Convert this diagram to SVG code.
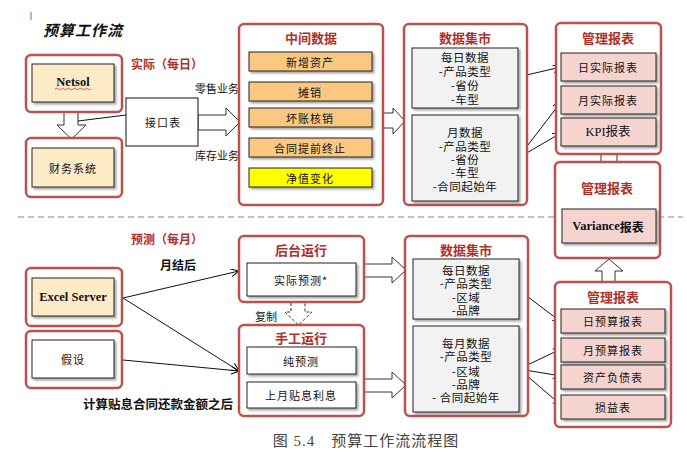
<svg xmlns="http://www.w3.org/2000/svg" width="687" height="465" viewBox="0 0 687 465">
<style>
text{font-family:"Noto Sans CJK SC","Liberation Sans",sans-serif;dominant-baseline:central;text-anchor:middle;fill:#111}
.outer{fill:#fff;stroke:#c0504d;stroke-width:2.5}
.inner{stroke:#222;stroke-width:1;filter:url(#sh)}
.peach{fill:#fdebc8}
.orange{fill:#fac880}
.yellow{fill:#ffff00}
.pink{fill:#f5d4d0}
.gray{fill:#f2f2f2}
.white{fill:#fff}
.ttl{font-size:13px;font-weight:bold;fill:#b0302a}
.lbl{font-size:11px;letter-spacing:1px}
.dm{font-size:11.5px;letter-spacing:0.5px}
.en{font-family:"Liberation Serif","DejaVu Serif",serif;font-weight:bold;font-size:12.5px}
.hollow{fill:#fff;stroke:#333;stroke-width:1}
.conn{stroke:#111;stroke-width:1;fill:none}
.blk{font-size:12px;font-weight:bold}
</style>
<defs>
<filter id="sh" x="-10%" y="-10%" width="130%" height="140%">
<feDropShadow dx="2" dy="2" stdDeviation="1" flood-color="#000" flood-opacity="0.35"/>
</filter>
<marker id="ah" markerWidth="9" markerHeight="9" refX="8" refY="4" orient="auto" markerUnits="userSpaceOnUse">
<path d="M0,0 L8,4 L0,8" fill="none" stroke="#111" stroke-width="1"/>
</marker>
</defs>

<line x1="31" y1="12" x2="31" y2="20" stroke="#c0504d" stroke-width="1"/>
<text x="83" y="29" style="font-size:15px;font-style:italic;font-weight:bold;letter-spacing:1px">预算工作流</text>
<text x="167" y="63" class="ttl" style="font-size:12px">实际（每日）</text>
<text x="167" y="238" class="ttl" style="font-size:12px">预测（每月）</text>
<line x1="18" y1="217" x2="683" y2="217" stroke="#888" stroke-width="1" stroke-dasharray="6 4"/>

<g id="connectors">
<path class="hollow" d="M64,112 H78 V125 H86 L71.5,139 L57,125 H64 Z"/>
<path class="hollow" d="M198,115 H226 V108 L240,122 L226,136 V130 H198 Z"/>
<path class="hollow" d="M383,113 H393 V108 L405,121 L393,134 V128 H383 Z"/>
<path class="hollow" d="M601,146 H617 V163 H624 L609,176 L594,163 H601 Z"/>
<path class="hollow" d="M602,282 V271 H595 L609,259 L623,271 H615 V282 Z"/>
<path class="hollow" d="M291,303 V312 H285 L298.5,325 L312,312 H305 V303" stroke-dasharray="3 2"/>
<path class="hollow" d="M364,264 H392 V257 L406,270 L392,283 V277 H364 Z"/>
<path class="hollow" d="M364,379 H392 V372 L406,385 L392,398 V392 H364 Z"/>
<line class="conn" x1="126" y1="115" x2="78" y2="121"/>
<line class="conn" x1="518" y1="77" x2="561" y2="67" marker-end="url(#ah)"/>
<line class="conn" x1="518" y1="158" x2="561" y2="102" marker-end="url(#ah)"/>
<line class="conn" x1="518" y1="158" x2="561" y2="133" marker-end="url(#ah)"/>
<line class="conn" x1="123" y1="298" x2="239" y2="271" marker-end="url(#ah)"/>
<line class="conn" x1="123" y1="298" x2="239" y2="371" marker-end="url(#ah)"/>
<line class="conn" x1="123" y1="360" x2="239" y2="371" marker-end="url(#ah)"/>
<line class="conn" x1="519" y1="290" x2="561" y2="322" marker-end="url(#ah)"/>
<line class="conn" x1="519" y1="369" x2="561" y2="349" marker-end="url(#ah)"/>
<line class="conn" x1="519" y1="369" x2="561" y2="376" marker-end="url(#ah)"/>
<line class="conn" x1="519" y1="369" x2="561" y2="405" marker-end="url(#ah)"/>
<text x="217" y="88" class="lbl" style="letter-spacing:0">零售业务</text>
<text x="217" y="155" class="lbl" style="letter-spacing:0">库存业务</text>
<text x="178" y="264" class="blk">月结后</text>
<text x="266" y="316" class="lbl" style="letter-spacing:0">复制</text>
<text x="158" y="403" class="blk" style="font-size:12.5px">计算贴息合同还款金额之后</text>
</g>

<g id="netsol">
<rect class="outer" x="26" y="55" width="96" height="57" rx="5"/>
<rect class="inner peach" x="32" y="64" width="82" height="38"/>
<text x="73" y="82" class="en">Netsol</text>
<path d="M55,89 q1.5,-1.5 3,0 t3,0 t3,0 t3,0 t3,0 t3,0 t3,0 t3,0 t3,0 t3,0 t3,0 t3,0" fill="none" stroke="#e03030" stroke-width="0.8"/>
</g>
<g id="caiwu">
<rect class="outer" x="26" y="138" width="96" height="59" rx="5"/>
<rect class="inner peach" x="32" y="148" width="82" height="39"/>
<text x="73" y="168" class="lbl">财务系统</text>
</g>
<g id="jiekou">
<rect x="126" y="98" width="72" height="48" fill="#fff" stroke="#111" stroke-width="1"/>
<text x="163" y="122" class="lbl">接口表</text>
</g>

<g id="zhongjian">
<rect class="outer" x="239" y="24" width="144" height="181" rx="5"/>
<text x="311" y="37" class="ttl">中间数据</text>
<rect class="inner orange" x="249" y="52" width="123" height="19"/>
<text x="310" y="62" class="lbl">新增资产</text>
<rect class="inner orange" x="249" y="82" width="123" height="19"/>
<text x="310" y="92" class="lbl">摊销</text>
<rect class="inner orange" x="249" y="108" width="123" height="19"/>
<text x="310" y="118" class="lbl">坏账核销</text>
<rect class="inner orange" x="249" y="138" width="123" height="19"/>
<text x="310" y="148" class="lbl">合同提前终止</text>
<rect class="inner yellow" x="249" y="168" width="123" height="19"/>
<text x="310" y="178" class="lbl">净值变化</text>
</g>

<g id="shuju-top">
<rect class="outer" x="404" y="24" width="123" height="181" rx="5"/>
<text x="465" y="37" class="ttl">数据集市</text>
<rect class="inner gray" x="412" y="48" width="106" height="60"/>
<text x="465" y="57" class="dm">每日数据</text>
<text x="465" y="71" class="dm">-产品类型</text>
<text x="465" y="85" class="dm">-省份</text>
<text x="465" y="99" class="dm">-车型</text>
<rect class="inner gray" x="412" y="115" width="106" height="86"/>
<text x="465" y="132" class="dm">月数据</text>
<text x="465" y="146" class="dm">-产品类型</text>
<text x="465" y="159" class="dm">-省份</text>
<text x="465" y="172" class="dm">-车型</text>
<text x="465" y="186" class="dm">-合同起始年</text>
</g>

<g id="guanli-top">
<rect class="outer" x="556" y="23" width="105" height="131" rx="5"/>
<text x="608" y="37" class="ttl">管理报表</text>
<rect class="inner pink" x="561" y="53" width="95" height="28"/>
<text x="608" y="67" class="lbl">日实际报表</text>
<rect class="inner pink" x="561" y="86" width="95" height="28"/>
<text x="608" y="100" class="lbl">月实际报表</text>
<rect class="inner pink" x="561" y="118" width="95" height="28"/>
<text x="608" y="132" style="font-family:'Liberation Serif','Noto Sans CJK SC',serif;font-size:12.5px">KPI报表</text>
</g>

<g id="guanli-variance">
<rect class="outer" x="555" y="162" width="105" height="96" rx="5"/>
<text x="607" y="187" class="ttl">管理报表</text>
<rect class="inner pink" x="562" y="209" width="94" height="34"/>
<text x="608" y="226" class="en">Variance<tspan style="font-family:'Noto Sans CJK SC',sans-serif;font-size:12px">报表</tspan></text>
</g>

<g id="excel">
<rect class="outer" x="26" y="268" width="96" height="58" rx="5"/>
<rect class="inner peach" x="32" y="278" width="82" height="38"/>
<text x="73" y="297" class="en">Excel Server</text>
</g>
<g id="jiashe">
<rect class="outer" x="26" y="331" width="96" height="57" rx="5"/>
<rect class="inner white" x="32" y="340" width="82" height="38"/>
<text x="73" y="359" class="lbl">假设</text>
</g>

<g id="houtai">
<rect class="outer" x="239" y="236" width="125" height="66" rx="5"/>
<text x="301" y="249" class="ttl">后台运行</text>
<rect class="inner white" x="247" y="263" width="109" height="33"/>
<text x="301" y="280" class="lbl">实际预测*</text>
</g>
<g id="shougong">
<rect class="outer" x="239" y="325" width="125" height="91" rx="5"/>
<text x="301" y="337" class="ttl">手工运行</text>
<rect class="inner white" x="247" y="347" width="109" height="27"/>
<text x="301" y="361" class="lbl">纯预测</text>
<rect class="inner white" x="247" y="382" width="109" height="26"/>
<text x="301" y="395" class="lbl">上月贴息利息</text>
</g>

<g id="shuju-bottom">
<rect class="outer" x="405" y="236" width="123" height="180" rx="5"/>
<text x="466" y="249" class="ttl">数据集市</text>
<rect class="inner gray" x="413" y="259" width="106" height="60"/>
<text x="466" y="270" class="dm">每日数据</text>
<text x="466" y="283" class="dm">-产品类型</text>
<text x="466" y="297" class="dm">-区域</text>
<text x="466" y="310" class="dm">-品牌</text>
<rect class="inner gray" x="413" y="326" width="106" height="86"/>
<text x="466" y="343" class="dm">每月数据</text>
<text x="466" y="356" class="dm">-产品类型</text>
<text x="466" y="371" class="dm">-区域</text>
<text x="466" y="384" class="dm">-品牌</text>
<text x="466" y="397" class="dm">- 合同起始年</text>
</g>

<g id="guanli-bottom">
<rect class="outer" x="555" y="282" width="116" height="145" rx="5"/>
<text x="613" y="296" class="ttl">管理报表</text>
<rect class="inner pink" x="561" y="309" width="104" height="24"/>
<text x="613" y="321" class="lbl">日预算报表</text>
<rect class="inner pink" x="561" y="338" width="104" height="24"/>
<text x="613" y="350" class="lbl">月预算报表</text>
<rect class="inner pink" x="561" y="365" width="104" height="24"/>
<text x="613" y="377" class="lbl">资产负债表</text>
<rect class="inner pink" x="561" y="395" width="104" height="24"/>
<text x="613" y="407" class="lbl">损益表</text>
</g>

<text x="366" y="441" style="font-family:'Liberation Serif','Noto Sans CJK SC',serif;font-size:15px;fill:#444;letter-spacing:1px">图 5.4　预算工作流流程图</text>
</svg>
